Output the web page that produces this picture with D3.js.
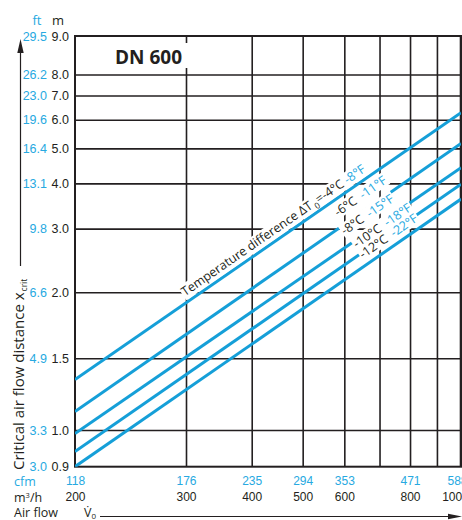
<!DOCTYPE html>
<html><head><meta charset="utf-8">
<script src="https://cdn.jsdelivr.net/npm/d3@7"></script>
<style>
  body { margin: 0; background: #fff; }
  svg { display: block; font-family: "Open Sans", "Noto Sans", sans-serif; }
</style>
</head><body>
<svg id="chart" width="462" height="520"></svg>
<script>
// Air flow ticks (m³/h) and the matching cfm values
const flowTicks = [200, 300, 400, 500, 600, 800, 1000];
const cfmTicks = [118, 176, 235, 294, 353, 471, 588];
const flowGrid = [300, 400, 500, 600, 700, 800, 900];

// Critical air flow distance ticks (m) and the matching feet values
const distTicks = [9.0, 8.0, 7.0, 6.0, 5.0, 4.0, 3.0, 2.0, 1.5, 1.0, 0.9];
const ftTicks = ["29.5", "26.2", "23.0", "19.6", "16.4", "13.1", "9.8", "6.6", "4.9", "3.3", "3.0"];
const distGrid = [8, 7, 6, 5, 4, 3, 2, 1.5, 1.0];

// One curve per temperature difference: x_crit at 200 and 1000 m³/h
const flowRange = [200, 1000];
const tempC = [-4, -6, -8, -10, -12];
const tempF = [-8, -11, -15, -18, -22];
const xcritLow = [1.33, 1.11, 0.99, 0.94, 0.90];
const xcritHigh = [6.27, 5.16, 4.42, 3.98, 3.62];
// air flow where each curve's caption begins
const labelFlow = [303, 598, 617, 644, 662];

const BLUE_LINE = "#159fd8";
const BLUE_TEXT = "#27a9e1";
const INK = "#231f20";

const svg = d3.select("#chart");
const pL = 75, pR = 461, pT = 36, pB = 466.7;

// Nomogram axes: logarithmic, with stretched end segments
const x = d3.scaleLog().domain([200, 300, 1000]).range([pL, 186, pR]);
const y = d3.scaleLog().domain([0.9, 1.0, 1.5, 2, 8, 9]).range([pB, 430, 358.3, 292.3, 74.5, pT]);

// Grid
const gy = svg.append("g").attr("transform", `translate(${pL},0)`)
  .call(d3.axisLeft(y).tickValues(distGrid).tickSize(-(pR - pL)).tickFormat(""));
gy.select(".domain").remove();
gy.selectAll("line").attr("stroke", INK).attr("stroke-width", 1.6);

const gx = svg.append("g").attr("transform", `translate(0,${pT})`)
  .call(d3.axisBottom(x).tickValues(flowGrid).tickSize(pB - pT).tickFormat(""));
gx.select(".domain").remove();
gx.selectAll("line").attr("stroke", INK).attr("stroke-width", 1.6);

// Title box
const title = svg.append("g");
title.append("rect").attr("x", 109).attr("y", 43).attr("width", 80).attr("height", 25).attr("fill", "#fff");
title.append("text").attr("x", 115).attr("y", 64)
  .attr("font-size", 19).attr("font-weight", 700).attr("fill", INK).text("DN 600");

// Frame
svg.append("rect").attr("x", pL).attr("y", pT)
  .attr("width", pR - pL).attr("height", pB - pT)
  .attr("fill", "none").attr("stroke", INK).attr("stroke-width", 2);
svg.append("line").attr("x1", pR).attr("x2", pR).attr("y1", pT).attr("y2", pB)
  .attr("stroke", INK).attr("stroke-width", 2.6);

// Curves
const series = tempC.map((c, i) => ({
  c, f: tempF[i],
  pts: [[flowRange[0], xcritLow[i]], [flowRange[1], xcritHigh[i]]],
  at: labelFlow[i]
}));
const line = d3.line().x(d => x(d[0])).y(d => y(d[1]));
const plot = svg.append("g");
plot.append("clipPath").attr("id", "clip").append("rect")
  .attr("x", pL).attr("y", pT).attr("width", pR - pL).attr("height", pB - pT);
plot.selectAll("path.curve").data(series).join("path")
  .attr("class", "curve")
  .attr("clip-path", "url(#clip)")
  .attr("d", d => line(d.pts))
  .attr("fill", "none").attr("stroke", BLUE_LINE).attr("stroke-width", 3);

// Captions along the curves
const captionLift = [5.8, 9.9, 10.3, 6.6, 6.6];
series.forEach((s, i) => {
  const x0 = x(s.pts[0][0]), y0 = y(s.pts[0][1]);
  const x1 = x(s.pts[1][0]), y1 = y(s.pts[1][1]);
  const ang = Math.atan2(y1 - y0, x1 - x0) * 180 / Math.PI;
  const px = x(s.at);
  const py = y0 + (px - x0) * (y1 - y0) / (x1 - x0);
  const g = svg.append("g")
    .attr("transform", `translate(${px},${py}) rotate(${ang}) translate(0,${-captionLift[i]})`);
  const bg = g.append("rect").attr("fill", "#fff");
  const t = g.append("text").attr("font-size", 12.5).attr("fill", INK);
  if (i === 0) {
    t.append("tspan").text("Temperature difference ΔT");
    t.append("tspan").attr("font-size", 8.5).attr("dy", 3.5).attr("dx", 2).text("0");
    t.append("tspan").attr("dy", -3.5).text(`=${s.c}°C`);
  } else {
    t.append("tspan").text(`${s.c}°C`);
  }
  t.append("tspan").attr("dx", i === 0 ? 3 : 6).attr("fill", BLUE_TEXT).text(`${s.f}°F`);
  const b = t.node().getBBox();
  bg.attr("x", b.x - 1).attr("y", b.y + 1.5).attr("width", b.width + 2).attr("height", b.height - 3);
});

// Left axis labels: metres and feet
const fs = 12.5;
const am = svg.append("g").attr("transform", `translate(${pL},0)`)
  .call(d3.axisLeft(y).tickValues(distTicks).tickSize(0).tickPadding(6).tickFormat(d3.format(".1f")));
am.select(".domain").remove();
am.selectAll("text").attr("font-size", fs).attr("font-family", null).attr("fill", INK);

const aft = svg.append("g").attr("transform", `translate(${pL},0)`)
  .call(d3.axisLeft(y).tickValues(distTicks).tickSize(0).tickPadding(28)
    .tickFormat((d, i) => ftTicks[i]));
aft.select(".domain").remove();
aft.selectAll("text").attr("font-size", fs).attr("font-family", null).attr("fill", BLUE_TEXT);

svg.append("text").attr("x", 37).attr("y", 25).attr("text-anchor", "middle")
  .attr("font-size", 13).attr("fill", BLUE_TEXT).text("ft");
svg.append("text").attr("x", 58).attr("y", 25).attr("text-anchor", "middle")
  .attr("font-size", 13).attr("fill", INK).text("m");

// Bottom axis labels: cfm and m³/h (the last pair sits against the right edge)
const lastTick = flowTicks[flowTicks.length - 1];
const acfm = svg.append("g").attr("transform", `translate(0,${pB})`)
  .call(d3.axisBottom(x).tickValues(flowTicks).tickSize(0).tickPadding(10)
    .tickFormat((d, i) => cfmTicks[i]));
acfm.select(".domain").remove();
acfm.selectAll("text").attr("font-size", 12).attr("font-family", null).attr("fill", BLUE_TEXT)
  .attr("dx", d => d === lastTick ? -4 : 0);

const am3 = svg.append("g").attr("transform", `translate(0,${pB})`)
  .call(d3.axisBottom(x).tickValues(flowTicks).tickSize(0).tickPadding(26).tickFormat(d3.format("d")));
am3.select(".domain").remove();
am3.selectAll("text").attr("font-size", 12).attr("font-family", null).attr("fill", INK)
  .attr("dx", d => d === lastTick ? -6 : 0);

svg.append("text").attr("x", 14).attr("y", 486).attr("font-size", 12.5).attr("fill", BLUE_TEXT).text("cfm");
const unit = svg.append("text").attr("x", 14).attr("y", 502).attr("font-size", 12.5).attr("fill", INK);
unit.append("tspan").text("m");
unit.append("tspan").attr("font-size", 7.5).attr("dy", -4.5).text("3");
unit.append("tspan").attr("dy", 4.5).text("/h");

svg.append("text").attr("x", 14).attr("y", 517).attr("font-size", 12.5).attr("fill", INK).text("Air flow");
const v0 = svg.append("text").attr("x", 84).attr("y", 517).attr("font-size", 12.5).attr("fill", INK);
v0.append("tspan").text("V\u0307");
v0.append("tspan").attr("font-size", 8).attr("dy", 2).text("0");

// Axis arrows
svg.append("line").attr("x1", 100).attr("x2", 450).attr("y1", 516.5).attr("y2", 516.5)
  .attr("stroke", INK).attr("stroke-width", 1.2);
svg.append("path").attr("d", "M462,516.5 L448,513.8 L448,519.2 Z").attr("fill", INK);

svg.append("line").attr("x1", 20.5).attr("x2", 20.5).attr("y1", 50).attr("y2", 266)
  .attr("stroke", INK).attr("stroke-width", 1.2);
svg.append("path").attr("d", "M20.5,39 L17.3,53 L23.7,53 Z").attr("fill", INK);

// Vertical axis title
const yt = svg.append("text").attr("transform", "translate(24,470) rotate(-90)")
  .attr("font-size", 15).attr("fill", INK);
yt.append("tspan").text("Critical air flow distance  x");
yt.append("tspan").attr("font-size", 8.5).attr("dy", 3).attr("dx", 1).text("crit");
</script>
</body></html>
